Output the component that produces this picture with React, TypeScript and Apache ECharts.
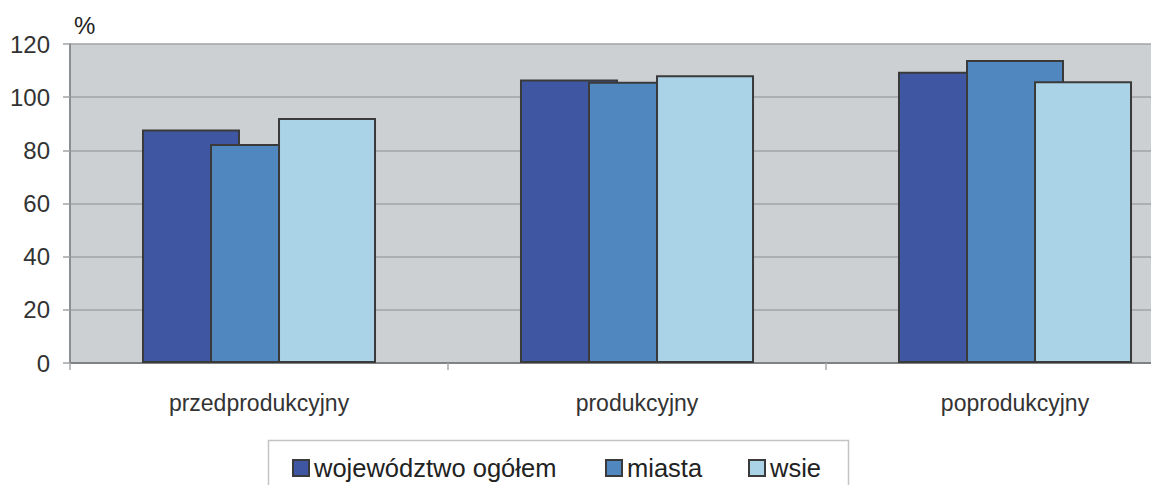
import React, { useEffect, useRef } from "react";
import * as echarts from "echarts";

const categories = ["przedprodukcyjny", "produkcyjny", "poprodukcyjny"];
const seriesNames = ["województwo ogółem", "miasta", "wsie"];
const wojewodztwo = [87.8, 106.6, 109.6];
const miasta = [82.4, 105.8, 114.0];
const wsie = [92.2, 108.2, 106.0];
const colors = ["#3F56A2", "#5087BE", "#ABD3E8"];
const yTicks = { min: 0, max: 120, interval: 20 };

export default function App() {
  const ref = useRef<HTMLDivElement>(null);
  useEffect(() => {
    if (!ref.current) return;
    const chart = echarts.init(ref.current, null, { renderer: "svg" });
    const values = [wojewodztwo, miasta, wsie];
    const font = "Liberation Sans, Arial, sans-serif";
    const legendLefts = [292, 605, 748];
    chart.setOption({
      animation: false,
      grid: {
        left: 70,
        top: 44,
        bottom: 122,
        right: 0,
        show: true,
        backgroundColor: "#CDD0D2",
        borderWidth: 0,
      },
      graphic: [
        {
          type: "text",
          left: 74,
          top: 13,
          style: { text: "%", fontSize: 24, fill: "#222", fontFamily: font },
        },
        {
          type: "rect",
          shape: { x: 268.5, y: 440.5, width: 580, height: 70 },
          style: { fill: "none", stroke: "#C4C4C4", lineWidth: 1.5 },
        },
      ],
      legend: seriesNames.map((n, i) => ({
        data: [n],
        left: legendLefts[i],
        top: 455,
        padding: 0,
        icon: "rect",
        itemWidth: 16,
        itemHeight: 16,
        itemGap: 0,
        textStyle: { fontSize: 25.5, color: "#222", fontFamily: font },
      })),
      xAxis: {
        type: "category",
        data: categories,
        axisLine: { show: true, lineStyle: { color: "#7F8284", width: 2 } },
        axisTick: { show: true, length: 7, lineStyle: { color: "#A8A8A8", width: 1.5 } },
        axisLabel: { fontSize: 23, color: "#333", margin: 28, fontFamily: font },
        splitLine: { show: false },
      },
      yAxis: {
        type: "value",
        min: yTicks.min,
        max: yTicks.max,
        interval: yTicks.interval,
        axisLine: { show: true, lineStyle: { color: "#8C8F91", width: 2 } },
        axisTick: { show: true, length: 7, lineStyle: { color: "#A0A3A5", width: 1.5 } },
        axisLabel: { fontSize: 24, color: "#333", margin: 20, fontFamily: font },
        splitLine: { show: true, lineStyle: { color: "#A0A4A6", width: 1.5 } },
      },
      series: seriesNames.map((n, i) => ({
        type: "bar",
        name: n,
        data: values[i],
        barWidth: 98,
        barGap: "-30.6%",
        itemStyle: { color: colors[i], borderColor: "#3A3A3A", borderWidth: 2 },
      })),
    });
    return () => chart.dispose();
  }, []);
  return (
    <div
      ref={ref}
      style={{ position: "fixed", left: 0, top: 0, width: 1204, height: 485, background: "#fff" }}
    />
  );
}
